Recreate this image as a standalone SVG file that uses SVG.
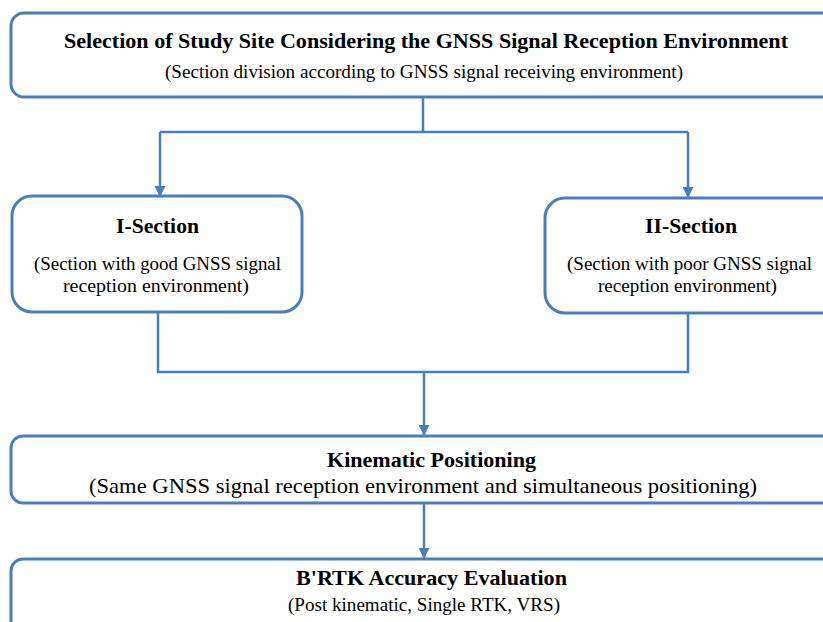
<svg xmlns="http://www.w3.org/2000/svg" width="823" height="622" viewBox="0 0 823 622">
<defs>
<style>
.box{fill:#fff;stroke:#4A7EBB;stroke-width:3}
.ln{fill:none;stroke:#4A7EBB;stroke-width:2.5}
.t{font-family:"Liberation Serif","Times New Roman",serif;fill:#000;text-anchor:middle}
.b{font-weight:bold;font-size:22px}
.s{font-size:19px}
.s3{font-size:21px}
</style>
<marker id="arr" markerWidth="11" markerHeight="11" refX="10" refY="5.5" orient="auto" markerUnits="userSpaceOnUse">
<path d="M0,0 L11,5.5 L0,11 Z" fill="#4A7EBB"/>
</marker>
</defs>
<rect width="823" height="622" fill="#fff"/>
<g id="connectors">
<path class="ln" d="M423,97 V132 M160,132 H688"/>
<path class="ln" d="M160,132 V196" marker-end="url(#arr)"/>
<path class="ln" d="M688,132 V197" marker-end="url(#arr)"/>
<path class="ln" d="M158,312 V372 H688 V313"/>
<path class="ln" d="M424,372 V435" marker-end="url(#arr)"/>
<path class="ln" d="M424,503 V558" marker-end="url(#arr)"/>
</g>
<g id="n1">
<rect class="box" x="11" y="13" width="830" height="84" rx="13"/>
<text class="t b" x="426" y="48" textLength="724" lengthAdjust="spacingAndGlyphs">Selection of Study Site Considering the GNSS Signal Reception Environment</text>
<text class="t s" x="424" y="78" textLength="518" lengthAdjust="spacingAndGlyphs">(Section division according to GNSS signal receiving environment)</text>
</g>
<g id="n2">
<rect class="box" x="12" y="196" width="290" height="116" rx="20"/>
<text class="t b" x="157.5" y="233" textLength="83" lengthAdjust="spacingAndGlyphs">I-Section</text>
<text class="t s" x="157.5" y="270" textLength="247" lengthAdjust="spacingAndGlyphs">(Section with good GNSS signal</text>
<text class="t s" x="156" y="292" textLength="186" lengthAdjust="spacingAndGlyphs">reception environment)</text>
</g>
<g id="n3">
<rect class="box" x="545" y="198" width="300" height="115" rx="20"/>
<text class="t b" x="691" y="233" textLength="92" lengthAdjust="spacingAndGlyphs">II-Section</text>
<text class="t s" x="689.5" y="270" textLength="245" lengthAdjust="spacingAndGlyphs">(Section with poor GNSS signal</text>
<text class="t s" x="687.5" y="292" textLength="179" lengthAdjust="spacingAndGlyphs">reception environment)</text>
</g>
<g id="n4">
<rect class="box" x="11" y="436" width="830" height="67" rx="12"/>
<text class="t b" x="431.5" y="467" textLength="209" lengthAdjust="spacingAndGlyphs">Kinematic Positioning</text>
<text class="t s3" x="423" y="493" textLength="668" lengthAdjust="spacingAndGlyphs">(Same GNSS signal reception environment and simultaneous positioning)</text>
</g>
<g id="n5">
<rect class="box" x="11" y="559" width="830" height="90" rx="12"/>
<text class="t b" x="431.5" y="585" textLength="271" lengthAdjust="spacingAndGlyphs">B'RTK Accuracy Evaluation</text>
<text class="t s" x="424" y="611" textLength="272" lengthAdjust="spacingAndGlyphs">(Post kinematic, Single RTK, VRS)</text>
</g>
</svg>
